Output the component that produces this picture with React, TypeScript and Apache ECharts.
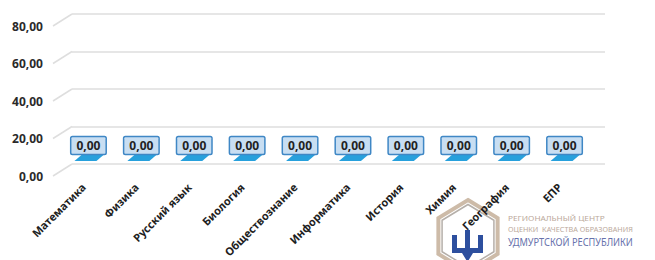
import React, { useEffect, useRef } from "react";
import * as echarts from "echarts";

const categories = [
  "Математика",
  "Физика",
  "Русский язык",
  "Биология",
  "Обществознание",
  "Информатика",
  "История",
  "Химия",
  "География",
  "ЕПР",
];
const values = [0, 0, 0, 0, 0, 0, 0, 0, 0, 0];
const yTicks = [0, 20, 40, 60, 80];
const logoLines = [
  "РЕГИОНАЛЬНЫЙ ЦЕНТР",
  "ОЦЕНКИ  КАЧЕСТВА ОБРАЗОВАНИЯ",
  "УДМУРТСКОЙ РЕСПУБЛИКИ",
];

const FONT = '"Noto Sans", "DejaVu Sans", sans-serif';
const fmt = (v: number) => v.toFixed(2).replace(".", ",");

const DX = 19;
const DY = -12;

let registered = false;
function registerLogo() {
  if (registered) return;
  registered = true;
  const d =
    "M0 5 L5 5 L5 18 L13 18 L13 0 L18 0 L18 18 L26 18 L26 5 L31 5 L31 23 L21 23 L15.5 32 L10 23 L0 23 Z";
  echarts.graphic.registerShape("logo", echarts.graphic.extendPath(d as any, {}) as any);
}

function measure(text: string, font: string) {
  const c = document.createElement("canvas").getContext("2d");
  if (!c) return text.length * 5;
  c.font = font;
  return c.measureText(text).width;
}

function hex(cx: number, cy: number, r: number) {
  const pts: number[][] = [];
  for (let k = 0; k < 6; k++) {
    const a = (Math.PI / 3) * k - Math.PI / 2;
    pts.push([cx + r * Math.cos(a) * 0.95, cy + r * Math.sin(a)]);
  }
  return pts;
}

export default function App() {
  const ref = useRef<HTMLDivElement>(null);
  useEffect(() => {
    if (!ref.current) return;
    registerLogo();
    const chart = echarts.init(ref.current, undefined, { renderer: "svg" });

    const logoSpecs = [
      { y: 218, size: 7, fill: "#bba99b", target: 97, weight: "normal" },
      { y: 229, size: 7, fill: "#bba99b", target: 125, weight: "normal" },
      { y: 242, size: 10, fill: "#6872ac", target: 125, weight: "normal" },
    ];
    const logoTexts = logoLines.map((t, i) => {
      const s = logoSpecs[i];
      const w = measure(t, `${s.weight} ${s.size}px ${FONT}`);
      return {
        type: "text",
        x: 508,
        y: s.y,
        scaleX: s.target / w,
        z: 0,
        style: {
          text: t,
          fill: s.fill,
          fontSize: s.size,
          fontFamily: FONT,
          fontWeight: s.weight,
          verticalAlign: "middle",
          align: "left",
        },
      };
    });

    const option: any = {
      animation: false,
      backgroundColor: "#ffffff",
      grid: [
        { left: 72, right: 50, top: 14, bottom: 96 },
        { left: 53, right: 69, top: 26, bottom: 84 },
        { left: 62, right: 64, top: 20, bottom: 90 },
      ],
      xAxis: [
        { gridIndex: 0, type: "category", data: categories, show: false },
        { gridIndex: 1, type: "value", min: 0, max: 1, show: false },
        {
          gridIndex: 2,
          type: "category",
          data: categories,
          axisLine: { show: false },
          axisTick: { show: false },
          axisLabel: {
            rotate: 45,
            margin: 21,
            interval: 0,
            fontSize: 11,
            fontWeight: "bold",
            fontFamily: FONT,
            color: "#1e1e1e",
            padding: [0, 7, 0, 0],
          },
        },
      ],
      yAxis: [
        {
          gridIndex: 0,
          type: "value",
          min: 0,
          max: 80,
          interval: 20,
          axisLabel: { show: false },
          axisLine: { show: false },
          axisTick: { show: false },
          splitLine: { lineStyle: { color: "#dedede", width: 1.5 } },
        },
        {
          gridIndex: 1,
          type: "value",
          min: 0,
          max: 80,
          interval: 20,
          axisLine: { show: false },
          axisTick: { show: false },
          splitLine: { show: false },
          axisLabel: {
            formatter: (v: number) => fmt(v),
            margin: 10,
            fontSize: 12,
            fontWeight: "bold",
            fontFamily: FONT,
            color: "#2a2a2a",
          },
        },
        { gridIndex: 2, type: "value", min: 0, max: 80, interval: 20, show: false },
      ],
      graphic: [
        {
          type: "polygon",
          z: 0,
          shape: { points: hex(468, 236, 36) },
          style: { fill: "none", stroke: "#cdbba8", lineWidth: 4 },
        },
        {
          type: "polygon",
          z: 0,
          shape: { points: hex(468, 236, 31.5) },
          style: { fill: "none", stroke: "#b5afa9", lineWidth: 1.5 },
        },
        {
          type: "logo",
          x: 452,
          y: 230,
          z: 0,
          style: { fill: "#2d4f9e" },
        },
        ...logoTexts,
      ],
      series: [
        {
          type: "custom",
          xAxisIndex: 1,
          yAxisIndex: 1,
          silent: true,
          data: yTicks.map((v) => [0, v]),
          renderItem: (_p: any, api: any) => {
            const p = api.coord([0, api.value(1)]);
            return {
              type: "line",
              shape: { x1: p[0], y1: p[1], x2: p[0] + DX, y2: p[1] + DY },
              style: { stroke: "#dedede", lineWidth: 1.5 },
            };
          },
        },
        {
          type: "custom",
          xAxisIndex: 2,
          yAxisIndex: 2,
          silent: true,
          data: values.map((v, i) => [i, v]),
          renderItem: (_p: any, api: any) => {
            const v = api.value(1);
            const p = api.coord([api.value(0), v]);
            const x = p[0];
            const y = p[1];
            return {
              type: "group",
              children: [
                {
                  type: "polygon",
                  shape: {
                    points: [
                      [x - 14, y + 2],
                      [x + 8, y + 2],
                      [x + 15, y - 4],
                      [x - 7, y - 4],
                    ],
                  },
                  style: { fill: "#27a0dc" },
                },
                {
                  type: "text",
                  x: x,
                  y: y - 13.5,
                  style: {
                    text: fmt(v),
                    align: "center",
                    verticalAlign: "middle",
                    fontSize: 12,
                    fontWeight: "bold",
                    fontFamily: FONT,
                    fill: "#222222",
                    backgroundColor: "#c8def2",
                    borderColor: "#3f87c5",
                    borderWidth: 1.5,
                    borderRadius: 1,
                    padding: [2.5, 5, 2, 5],
                  },
                },
              ],
            };
          },
        },
      ],
    };
    chart.setOption(option);
    return () => chart.dispose();
  }, []);
  return (
    <div
      ref={ref}
      style={{ position: "fixed", left: 0, top: 0, width: 655, height: 260 }}
    />
  );
}
